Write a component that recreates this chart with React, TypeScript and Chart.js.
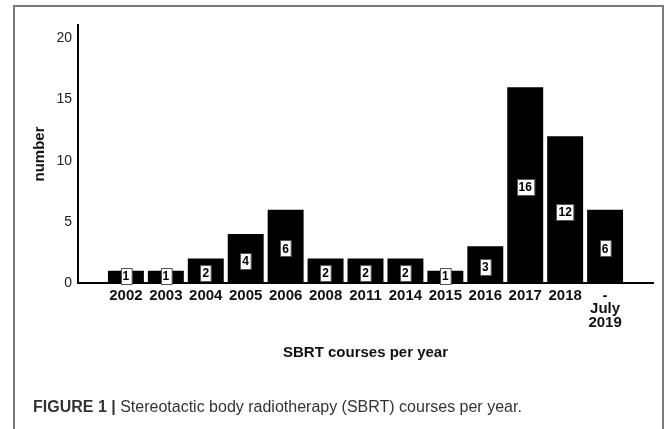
import React, { useEffect, useRef } from "react";
import { Chart, registerables } from "chart.js";

Chart.register(...registerables);

const categories: (string | string[])[] = [
  "2002", "2003", "2004", "2005", "2006", "2008", "2011", "2014", "2015", "2016", "2017", "2018", ["-", "July", "2019"],
];
const courses: number[] = [1, 1, 2, 4, 6, 2, 2, 2, 1, 3, 16, 12, 6];
const yTicks: number[] = [0, 5, 10, 15, 20];
const yTitle = "number";
const xTitle = "SBRT courses per year";
const captionBold = "FIGURE 1 | ";
const captionText = "Stereotactic body radiotherapy (SBRT) courses per year.";

const FONT = "'Liberation Sans', Arial, Helvetica, sans-serif";

const valueBoxes = {
  id: "valueBoxes",
  afterDatasetsDraw(chart: any) {
    const ctx = chart.ctx;
    const meta = chart.getDatasetMeta(0);
    ctx.save();
    ctx.font = `bold 12px ${FONT}`;
    ctx.textAlign = "center";
    ctx.textBaseline = "middle";
    meta.data.forEach((bar: any, i: number) => {
      const txt = String(courses[i]);
      const w = ctx.measureText(txt).width + 4;
      const h = 16;
      let cy = (bar.y + bar.base) / 2 + 2;
      if (cy + h / 2 > bar.base + 1) cy = bar.base + 1 - h / 2;
      const x0 = Math.round(bar.x - w / 2) + 0.5;
      const y0 = Math.round(cy - h / 2) + 0.5;
      ctx.fillStyle = "#fff";
      ctx.fillRect(x0, y0, w, h);
      ctx.strokeStyle = "#555";
      ctx.lineWidth = 1;
      ctx.strokeRect(x0, y0, w, h);
      ctx.fillStyle = "#000";
      ctx.fillText(txt, bar.x, cy + 1);
    });
    ctx.restore();
  },
};

export default function App() {
  const ref = useRef<HTMLCanvasElement>(null);

  useEffect(() => {
    if (!ref.current) return;
    const chart = new Chart(ref.current, {
      type: "bar",
      data: {
        datasets: [
          {
            data: courses.map((v, i) => ({ x: i, y: v })),
            backgroundColor: "#000",
            borderWidth: 0,
            barPercentage: 0.9,
            categoryPercentage: 1.0,
          },
        ],
      },
      options: {
        animation: false,
        responsive: false,
        devicePixelRatio: 1,
        layout: { padding: { left: 0, top: 25, right: 16, bottom: 0 } },
        plugins: { legend: { display: false }, tooltip: { enabled: false } },
        scales: {
          x: {
            type: "linear",
            offset: false,
            min: -1.2,
            max: categories.length - 1 + 1.2,
            grid: { display: false, drawTicks: false, offset: false },
            border: { display: true, color: "#000", width: 2 },
            afterBuildTicks: (scale: any) => {
              scale.ticks = categories.map((_, i) => ({ value: i }));
            },
            afterFit: (scale: any) => {
              scale.height = 146;
            },
            ticks: {
              autoSkip: false,
              maxRotation: 0,
              minRotation: 0,
              padding: 6,
              color: "#111",
              font: { family: FONT, size: 15, weight: "bold", lineHeight: 0.9 },
              callback: (value: any) => categories[Math.round(Number(value))] as any,
            },
            title: {
              display: true,
              text: xTitle,
              color: "#111",
              font: { family: FONT, size: 15, weight: "bold", lineHeight: 1.2 },
              padding: { top: 0, bottom: 67 },
            },
          },
          y: {
            type: "linear",
            min: 0,
            max: 21.1,
            grid: { display: false, drawTicks: false },
            border: { display: true, color: "#000", width: 2 },
            afterBuildTicks: (scale: any) => {
              scale.ticks = yTicks.map((v) => ({ value: v }));
            },
            afterFit: (scale: any) => {
              scale.width = 78;
            },
            ticks: {
              padding: 6,
              color: "#222",
              font: { family: FONT, size: 14 },
            },
            title: {
              display: true,
              text: yTitle,
              color: "#111",
              font: { family: FONT, size: 15, weight: "bold", lineHeight: 1.2 },
              padding: { top: 30.5, bottom: 0 },
            },
          },
        },
      },
      plugins: [valueBoxes],
    } as any);
    return () => chart.destroy();
  }, []);

  return (
    <div
      style={{
        position: "fixed",
        left: 0,
        top: 0,
        width: 669,
        height: 429,
        background: "#fff",
        overflow: "hidden",
      }}
    >
      <div
        style={{
          position: "absolute",
          left: 13,
          top: 5,
          width: 651,
          height: 460,
          border: "2px solid #7a7a7a",
          boxSizing: "border-box",
        }}
      />
      <canvas
        ref={ref}
        width={669}
        height={429}
        style={{ position: "absolute", left: 0, top: 0, width: 669, height: 429 }}
      />
      <div
        style={{
          position: "absolute",
          left: 33,
          top: 397,
          fontFamily: FONT,
          fontSize: 16,
          lineHeight: "20px",
          color: "#333",
          whiteSpace: "nowrap",
        }}
      >
        <span style={{ fontWeight: "bold" }}>{captionBold}</span>
        <span>{captionText}</span>
      </div>
    </div>
  );
}
